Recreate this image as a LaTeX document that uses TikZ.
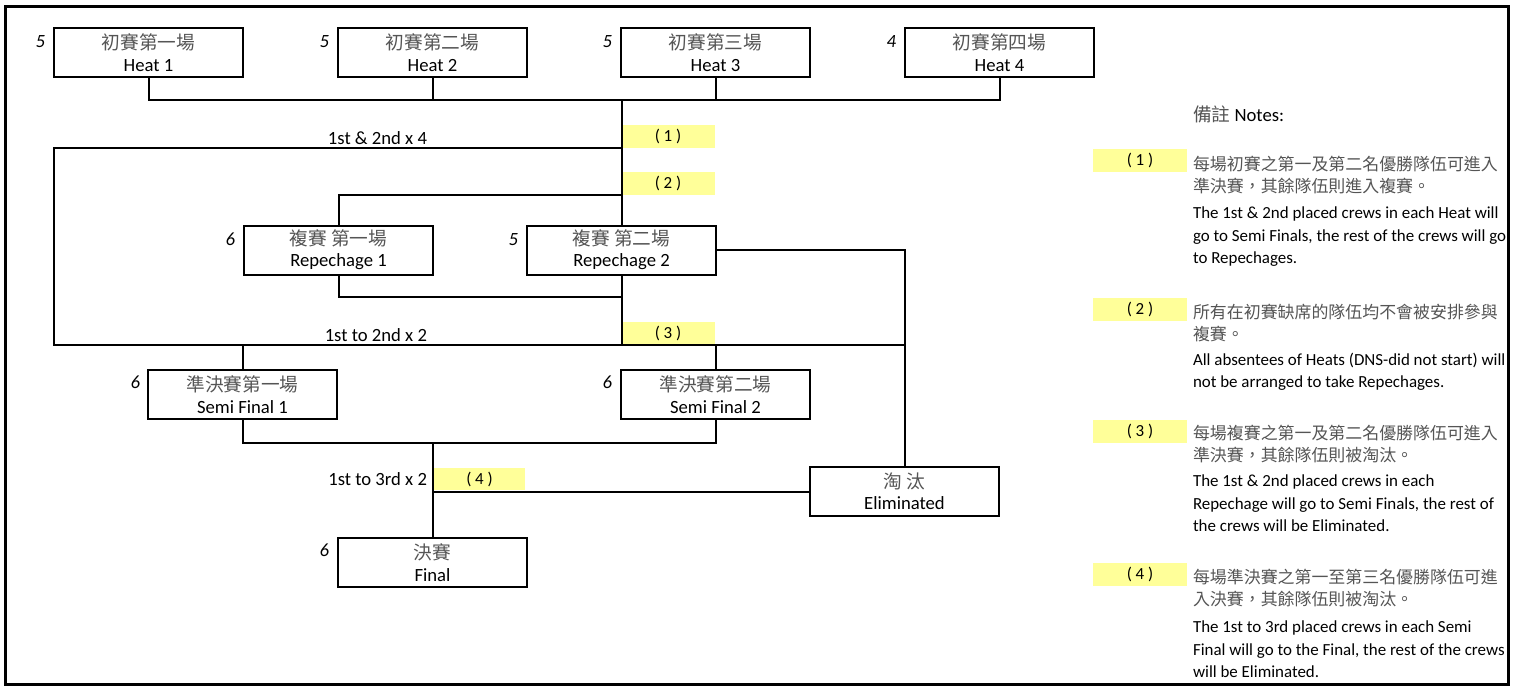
\documentclass[tikz,border=0pt]{standalone}
\usepackage{fontspec}
\setmainfont{Carlito}
\newfontfamily\cjk{Noto Sans CJK TC}
\definecolor{tagyellow}{RGB}{255,255,153}
\definecolor{cjkgray}{RGB}{85,85,85}
\newcommand{\zh}[1]{{\cjk\color{cjkgray}#1}}

\tikzset{every picture/.style={line width=1.5pt}}
\tikzset{
  racebox/.style={draw, line width=1.5pt, minimum width=141.75pt, minimum height=36.75pt,
    inner sep=0pt, align=center, font=\fontsize{14}{16}\selectfont},
  crewno/.style={anchor=base east, inner sep=0.75pt, font=\fontsize{14}{16}\selectfont\itshape},
  notetag/.style={fill=tagyellow, minimum width=70.5pt, minimum height=17.25pt,
    inner sep=0pt, font=\fontsize{12.7}{15}\selectfont},
  flowlbl/.style={anchor=base east, inner sep=0.75pt, font=\fontsize{14}{16}\selectfont},
  noteln/.style={anchor=base west, inner sep=0pt, align=left, font=\fontsize{12.7}{16.875}\selectfont},
}

\begin{document}
\begin{tikzpicture}[x=0.75pt,y=0.75pt,yscale=-1]
	\useasboundingbox (0,0) rectangle (1516,687);
	% Frame
	\draw [line width=2.25pt] (5,6.5) rectangle (1508.5,684.5);
	
	% Yellow note tags
	\node [notetag] (t1) at (668,136.5) {( 1 )};
	\node [notetag] (t2) at (668,183.5) {( 2 )};
	\node [notetag] (t3) at (668,333.5) {( 3 )};
	\node [notetag, minimum width=68.25pt, minimum height=16.5pt] (t4) at (479.5,479) {( 4 )};
	
	% Race boxes
	\node [racebox] (h1) at (148.5,52.5) {\zh{初賽第一場}\\Heat 1};
	\node [racebox] (h2) at (432.5,52.5) {\zh{初賽第二場}\\Heat 2};
	\node [racebox] (h3) at (715.5,52.5) {\zh{初賽第三場}\\Heat 3};
	\node [racebox] (h4) at (999.5,52.5) {\zh{初賽第四場}\\Heat 4};
	\node [racebox] (r1) at (338.5,250) {\zh{複賽 第一場}\\Repechage 1};
	\node [racebox] (r2) at (621.5,250) {\zh{複賽 第二場}\\Repechage 2};
	\node [racebox] (s1) at (242.5,394.5) {\zh{準決賽第一場}\\Semi Final 1};
	\node [racebox] (s2) at (715.5,394.5) {\zh{準決賽第二場}\\Semi Final 2};
	\node [racebox] (fin) at (432.5,562.5) {\zh{決賽}\\Final};
	\node [racebox] (elim) at (904.5,491.5) {\zh{淘 汰}\\Eliminated};
	
	% Crew counts
	\node [crewno] (c1) at (47,47) {5};
	\node [crewno] (c2) at (331,47) {5};
	\node [crewno] (c3) at (614,47) {5};
	\node [crewno] (c4) at (898,47) {4};
	\node [crewno] (c5) at (237,245) {6};
	\node [crewno] (c6) at (520,245) {5};
	\node [crewno] (c7) at (142,388) {6};
	\node [crewno] (c8) at (614,388) {6};
	\node [crewno] (c9) at (331,556) {6};
	
	% Qualifying labels
	\node [flowlbl] (q1) at (429,144) {1st \& 2nd x 4};
	\node [flowlbl] (q2) at (429,341) {1st to 2nd x 2};
	\node [flowlbl] (q3) at (429,485) {1st to 3rd x 2};
	
	% Connectors
	\coordinate (hbar) at (0,100);
	\coordinate (qleft) at (54,148);
	\coordinate (rbar) at (0,195);
	\coordinate (r1bar) at (0,297);
	\coordinate (sbar) at (0,345);
	\coordinate (fbar) at (0,443);
	
	\draw (h1.south) -- (h1.south |- hbar) -- (h4.south |- hbar) -- (h4.south);
	\draw (h2.south) -- (h2.south |- hbar);
	\draw (h3.south) -- (h3.south |- hbar);
	\draw (r2.north |- hbar) -- (r2.north);
	\draw (r2.north |- qleft) -- (qleft) -- (qleft |- sbar) -- (elim.north |- sbar);
	\draw (r2.north |- rbar) -| (r1.north);
	\draw (r1.south) |- (r2.south |- r1bar);
	\draw (r2.south) -- (r2.south |- sbar);
	\draw (r2.east) -| (elim.north);
	\draw (s1.north) -- (s1.north |- sbar);
	\draw (s2.north) -- (s2.north |- sbar);
	\draw (s1.south) -- (s1.south |- fbar) -- (s2.south |- fbar) -- (s2.south);
	\draw (fin.north |- fbar) -- (fin.north);
	\draw (fin.north |- elim.west) -- (elim.west);
	
	% Notes (base anchor = last line)
	\node [noteln, font=\fontsize{14}{16}\selectfont] (nh) at (1192,121) {\zh{備註} Notes:};
	\node [notetag] (k1) at (1140,160.5) {( 1 )};
	\node [notetag] (k2) at (1140,309) {( 2 )};
	\node [notetag] (k3) at (1140,431) {( 3 )};
	\node [notetag] (k4) at (1140,574.5) {( 4 )};
	
	\node [noteln] (n1z) at (1192,192.5) {\zh{每場初賽之第一及第二名優勝隊伍可進入}\\\zh{準決賽，其餘隊伍則進入複賽。}};
	\node [noteln] (n1e) at (1192,263.5) {The 1st \& 2nd placed crews in each Heat will\\go to Semi Finals, the rest of the crews will go\\to Repechages.};
	\node [noteln] (n2z) at (1192,340.5) {\zh{所有在初賽缺席的隊伍均不會被安排參與}\\\zh{複賽。}};
	\node [noteln] (n2e) at (1192,387.5) {All absentees of Heats (DNS-did not start) will\\not be arranged to take Repechages.};
	\node [noteln] (n3z) at (1192,461.5) {\zh{每場複賽之第一及第二名優勝隊伍可進入}\\\zh{準決賽，其餘隊伍則被淘汰。}};
	\node [noteln] (n3e) at (1192,531.5) {The 1st \& 2nd placed crews in each\\Repechage will go to Semi Finals, the rest of\\the crews will be Eliminated.};
	\node [noteln] (n4z) at (1192,605.5) {\zh{每場準決賽之第一至第三名優勝隊伍可進}\\\zh{入決賽，其餘隊伍則被淘汰。}};
	\node [noteln] (n4e) at (1192,677.5) {The 1st to 3rd placed crews in each Semi\\Final will go to the Final, the rest of the crews\\will be Eliminated.};
\end{tikzpicture}
\end{document}
